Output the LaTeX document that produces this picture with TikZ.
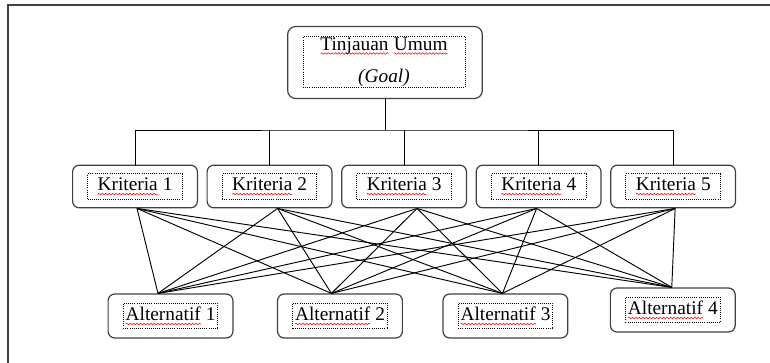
\documentclass[tikz,border=0pt]{standalone}
\usepackage{fontspec}
\setmainfont{Liberation Serif}
\usepackage{tikz}
\usetikzlibrary{positioning, decorations.pathmorphing}
\definecolor{bingkai}{HTML}{404040}
\newcommand\ejaan[1]{\tikz[baseline=(w.base)]{%
  \node[draw=none, inner sep=0pt, outer sep=0pt, minimum width=0pt,
    minimum height=0pt] (w) {#1};
  \draw[red, solid, line width=0.4pt, decorate,
    decoration={snake, amplitude=0.6pt, segment length=2.6pt}]
    ([yshift=-2.6pt]w.base west) -- ([yshift=-2.6pt]w.base east);}}

\begin{document}
\begin{tikzpicture}[x=0.75pt, y=-0.75pt,
      tujuan/.style={draw=bingkai, line width=0.9pt, rounded corners=6pt,
        inner sep=0pt, minimum width=146pt, minimum height=54pt},
      kotak/.style={draw=bingkai, line width=0.9pt, rounded corners=5pt,
        inner sep=0pt, minimum width=93.6pt, minimum height=32pt},
      isian/.style={draw=black, densely dotted, line width=0.6pt, inner sep=0pt,
        minimum width=71pt, minimum height=19pt, align=center,
        font=\fontsize{14.5}{17}\selectfont},
      garis/.style={black, line width=0.7pt}]
    \useasboundingbox (0,0) rectangle (770,363);
    \draw[bingkai, line width=0.9pt] (8,363) -- (8,5) -- (770,5);
    \node[tujuan] (goal) at (385,62.5) {};
    \node[isian, minimum width=121.5pt, minimum height=38pt] (tgoal) at (384,62)
      {\ejaan{Tinjauan} \ejaan{Umum}\\[7.5pt]\textit{(Goal)}};
    \node[kotak] (k1) at (135,186.5) {};
    \node[kotak, right=6.4pt of k1] (k2) {};
    \node[kotak, right=6.4pt of k2] (k3) {};
    \node[kotak, right=6.4pt of k3] (k4) {};
    \node[kotak, right=6.4pt of k4] (k5) {};
    \node[isian] (tk1) at (k1) {\ejaan{Kriteria} 1};
    \node[isian] (tk2) at (k2) {\ejaan{Kriteria} 2};
    \node[isian] (tk3) at (k3) {\ejaan{Kriteria} 3};
    \node[isian] (tk4) at (k4) {\ejaan{Kriteria} 4};
    \node[isian] (tk5) at (k5) {\ejaan{Kriteria} 5};
    \node[kotak, minimum height=33pt] (a1) at (170.5,316) {};
    \node[kotak, minimum height=33pt, right=32.6pt of a1] (a2) {};
    \node[kotak, minimum height=33pt, right=29.6pt of a2] (a3) {};
    \node[kotak, minimum height=33pt, right=31pt of a3, yshift=4.5pt] (a4) {};
    \node[isian] (ta1) at (a1) {\ejaan{Alternatif} 1};
    \node[isian] (ta2) at (a2) {\ejaan{Alternatif} 2};
    \node[isian] (ta3) at (a3) {\ejaan{Alternatif} 3};
    \node[isian] (ta4) at (a4) {\ejaan{Alternatif} 4};
    \coordinate (bus) at (385,130);
    \draw[garis] (goal.south) -- (bus);
    \draw[garis] (k1.north) |- (bus) -| (k5.north);
    \draw[garis] (k2.north) -- (k2.north |- bus);
    \draw[garis] (k3.north) -- (k3.north |- bus);
    \draw[garis] (k4.north) -- (k4.north |- bus);
    \foreach \k/\dk in {1/1.5, 2/6, 3/9.75, 4/-1.5, 5/1.5}
      \foreach \a/\da in {1/-9.4, 2/-6.4, 3/-2.25, 4/-0.75}
        \draw[garis] ([xshift=\dk pt]k\k.south) -- ([xshift=\da pt]a\a.north);
  \end{tikzpicture}
\end{document}
